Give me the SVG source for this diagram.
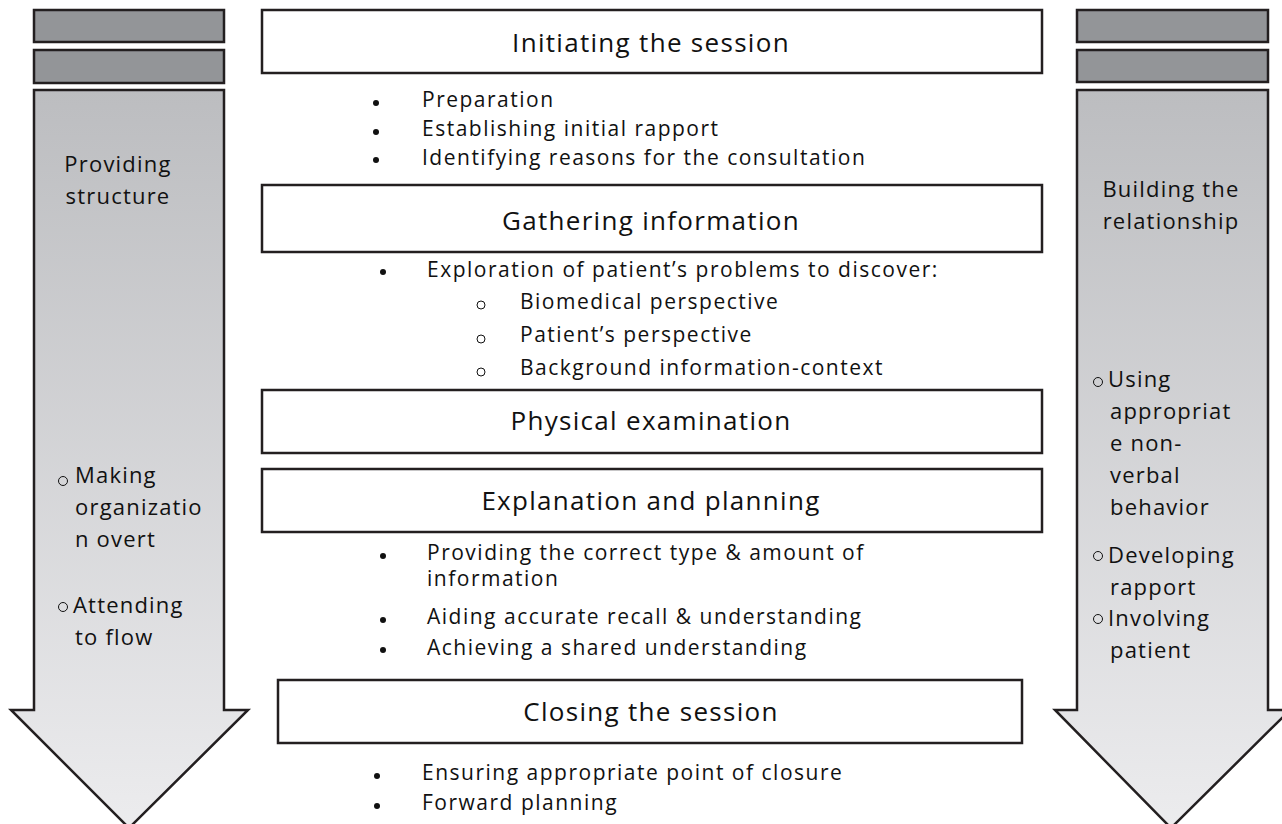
<svg xmlns="http://www.w3.org/2000/svg" width="1282" height="824" viewBox="0 0 1282 824">
  <defs>
    <linearGradient id="arrowFill" x1="0" y1="0" x2="0" y2="1">
      <stop offset="0" stop-color="#bcbdc0"/>
      <stop offset="1" stop-color="#ececee"/>
    </linearGradient>
    <style>
      .bar { fill: #939598; stroke: #231f20; stroke-width: 2.5; }
      .arrow { fill: url(#arrowFill); stroke: #231f20; stroke-width: 2.5; stroke-linejoin: miter; }
      .box { fill: #ffffff; stroke: #231f20; stroke-width: 2.5; }
      text { font-family: "Open Sans", "DejaVu Sans", sans-serif; fill: #111111; }
      .title { font-size: 26px; letter-spacing: 1.3px; text-anchor: middle; }
      .item { font-size: 21px; letter-spacing: 1.5px; }
      .side { font-size: 22px; letter-spacing: 1.2px; }
      .sidec { font-size: 22px; letter-spacing: 1.2px; text-anchor: middle; }
      .dot { fill: #111111; }
      .ring { fill: none; stroke: #111111; stroke-width: 1; }
    </style>
  </defs>

  <rect width="1282" height="824" fill="#ffffff"/>

  <!-- left column: structure arrow -->
  <g id="left-arrow">
    <rect class="bar" x="34" y="10" width="190" height="32"/>
    <rect class="bar" x="34" y="50" width="190" height="33"/>
    <path class="arrow" d="M34 90 H224 V710 H248 L129 828 L11 710 H34 Z"/>
    <text class="sidec" x="118" y="172">Providing</text>
    <text class="sidec" x="118" y="204">structure</text>
    <circle class="ring" cx="63" cy="481" r="4.5"/>
    <text class="side" x="75" y="483">Making</text>
    <text class="side" x="75" y="515">organizatio</text>
    <text class="side" x="75" y="547">n overt</text>
    <circle class="ring" cx="63" cy="607" r="4.5"/>
    <text class="side" x="73" y="613">Attending</text>
    <text class="side" x="75" y="645">to flow</text>
  </g>

  <!-- right column: relationship arrow -->
  <g id="right-arrow">
    <rect class="bar" x="1077" y="10" width="191" height="32"/>
    <rect class="bar" x="1077" y="50" width="191" height="32"/>
    <path class="arrow" d="M1077 90 H1268 V710 H1290 L1171 828 L1055 710 H1077 Z"/>
    <text class="sidec" x="1171" y="197">Building the</text>
    <text class="sidec" x="1171" y="229">relationship</text>
    <circle class="ring" cx="1098" cy="382" r="4.5"/>
    <text class="side" x="1108" y="387">Using</text>
    <text class="side" x="1110" y="419">appropriat</text>
    <text class="side" x="1110" y="451">e non-</text>
    <text class="side" x="1110" y="483">verbal</text>
    <text class="side" x="1110" y="515">behavior</text>
    <circle class="ring" cx="1098" cy="556" r="4.5"/>
    <text class="side" x="1108" y="563">Developing</text>
    <text class="side" x="1110" y="595">rapport</text>
    <circle class="ring" cx="1098" cy="619" r="4.5"/>
    <text class="side" x="1108" y="626">Involving</text>
    <text class="side" x="1110" y="658">patient</text>
  </g>

  <!-- stage 1 -->
  <g id="initiating">
    <rect class="box" x="262" y="10" width="780" height="63"/>
    <text class="title" x="651" y="52">Initiating the session</text>
    <circle class="dot" cx="376" cy="103" r="3"/>
    <text class="item" x="422" y="107">Preparation</text>
    <circle class="dot" cx="376" cy="132" r="3"/>
    <text class="item" x="422" y="136">Establishing initial rapport</text>
    <circle class="dot" cx="376" cy="160" r="3"/>
    <text class="item" x="422" y="165">Identifying reasons for the consultation</text>
  </g>

  <!-- stage 2 -->
  <g id="gathering">
    <rect class="box" x="262" y="185" width="780" height="67"/>
    <text class="title" x="651" y="230">Gathering information</text>
    <circle class="dot" cx="383" cy="272" r="3"/>
    <text class="item" x="427" y="277">Exploration of patient’s problems to discover:</text>
    <circle class="ring" cx="481" cy="305" r="4"/>
    <text class="item" x="520" y="309">Biomedical perspective</text>
    <circle class="ring" cx="481" cy="339" r="4"/>
    <text class="item" x="520" y="342">Patient’s perspective</text>
    <circle class="ring" cx="481" cy="372" r="4"/>
    <text class="item" x="520" y="375">Background information-context</text>
  </g>

  <!-- stage 3 -->
  <g id="physical">
    <rect class="box" x="262" y="390" width="780" height="63"/>
    <text class="title" x="651" y="430">Physical examination</text>
  </g>

  <!-- stage 4 -->
  <g id="explanation">
    <rect class="box" x="262" y="469" width="780" height="63"/>
    <text class="title" x="651" y="510">Explanation and planning</text>
    <circle class="dot" cx="383" cy="556" r="3"/>
    <text class="item" x="427" y="560">Providing the correct type &amp; amount of</text>
    <text class="item" x="427" y="586">information</text>
    <circle class="dot" cx="383" cy="620" r="3"/>
    <text class="item" x="427" y="624">Aiding accurate recall &amp; understanding</text>
    <circle class="dot" cx="383" cy="650" r="3"/>
    <text class="item" x="427" y="655">Achieving a shared understanding</text>
  </g>

  <!-- stage 5 -->
  <g id="closing">
    <rect class="box" x="278" y="680" width="744" height="63"/>
    <text class="title" x="651" y="721">Closing the session</text>
    <circle class="dot" cx="377" cy="776" r="3"/>
    <text class="item" x="422" y="780">Ensuring appropriate point of closure</text>
    <circle class="dot" cx="377" cy="806" r="3"/>
    <text class="item" x="422" y="810">Forward planning</text>
  </g>

  <g id="connectors"/>
</svg>
